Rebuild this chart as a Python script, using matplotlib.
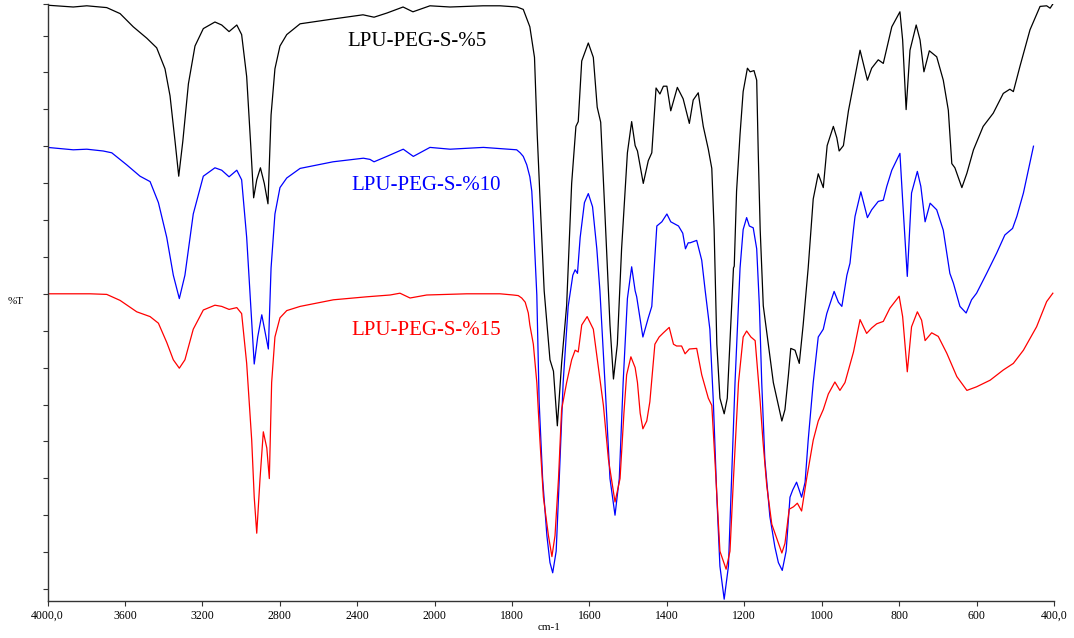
import numpy as np
import matplotlib
matplotlib.use("Agg")
import matplotlib.pyplot as plt

# ---------------- data (wavenumber cm-1, %T arbitrary offset units) ----------------
wn_black = [4000, 3867, 3797, 3694, 3625, 3557, 3487, 3436, 3393, 3367, 3341, 3322, 3301, 3272, 3238,
            3195, 3135, 3100, 3062, 3022, 2997, 2971, 2950, 2935, 2919, 2900, 2880, 2861, 2845, 2825,
            2799, 2764, 2695, 2525, 2370, 2313, 2246, 2163, 2112, 2024, 1960, 1875, 1831, 1787, 1771,
            1754, 1742, 1735, 1726, 1717, 1702, 1693, 1683, 1672, 1659, 1646, 1635, 1629, 1620, 1603,
            1590, 1580, 1571, 1560, 1547, 1538, 1528, 1517, 1502, 1491, 1482, 1476, 1461, 1448, 1439,
            1428, 1418, 1409, 1400, 1390, 1373, 1358, 1342, 1332, 1319, 1306, 1293, 1284, 1278, 1271,
            1263, 1252, 1244, 1235, 1228, 1226, 1220, 1211, 1203, 1192, 1185, 1175, 1168, 1164, 1159,
            1151, 1138, 1125, 1112, 1103, 1095, 1086, 1080, 1069, 1058, 1048, 1035, 1022, 1009, 996,
            986, 970, 961, 955, 944, 931, 918, 901, 882, 871, 854, 841, 832, 819, 798,
            791, 782, 772, 756, 746, 736, 722, 703, 686, 673, 664, 656, 638, 625, 608,
            583, 557, 531, 514, 505, 488, 462, 436, 419, 410, 403]
t_black = [99.3, 99.0, 99.2, 98.9, 97.9, 95.7, 93.8, 92.2, 88.7, 84.2, 76.6, 70.8, 76.6, 86.2, 92.5,
           95.4, 96.5, 96.0, 94.9, 96.0, 94.4, 87.4, 75.9, 67.2, 70.2, 72.2, 69.6, 66.2, 81.0, 88.7,
           92.5, 94.4, 96.2, 97.0, 97.7, 97.3, 98.0, 99.0, 98.2, 99.2, 99.0, 99.2, 99.2, 99.0, 98.6,
           95.7, 90.6, 77.8, 64.5, 51.7, 40.2, 38.3, 29.2, 39.6, 49.2, 69.6, 79.1, 79.9, 90.0, 93.0,
           90.6, 82.3, 79.8, 64.5, 46.0, 37.0, 42.8, 58.7, 74.7, 79.9, 75.9, 75.0, 69.6, 73.4, 74.7,
           85.5, 84.5, 85.8, 85.8, 81.7, 85.6, 83.7, 79.6, 83.5, 84.7, 79.1, 75.3, 72.1, 61.9, 42.8,
           33.8, 31.2, 33.8, 46.0, 55.5, 55.8, 68.3, 77.8, 84.9, 88.8, 88.2, 88.4, 86.8, 74.7, 61.9,
           49.2, 42.8, 36.4, 32.6, 30.0, 31.9, 37.7, 42.1, 41.8, 39.6, 46.0, 55.5, 67.0, 71.2, 68.9,
           75.9, 79.1, 77.2, 75.0, 75.9, 81.7, 86.1, 91.8, 86.8, 88.8, 90.2, 89.6, 92.1, 95.7, 98.2,
           93.5, 81.9, 91.8, 96.0, 93.5, 88.2, 91.7, 90.7, 86.8, 81.8, 72.9, 72.2, 68.9, 71.3, 75.2,
           79.1, 81.3, 84.6, 85.3, 84.9, 89.1, 95.2, 99.1, 99.2, 98.8, 99.5]

wn_blue = [4000, 3867, 3797, 3712, 3668, 3591, 3522, 3470, 3427, 3384, 3350, 3319, 3290, 3247, 3195,
           3135, 3100, 3062, 3022, 2997, 2971, 2950, 2932, 2914, 2893, 2875, 2859, 2845, 2825, 2799,
           2764, 2695, 2525, 2368, 2334, 2313, 2247, 2162, 2110, 2024, 1960, 1874, 1831, 1788, 1779,
           1771, 1762, 1754, 1749, 1745, 1736, 1730, 1721, 1710, 1702, 1695, 1686, 1678, 1668, 1655,
           1643, 1637, 1631, 1624, 1613, 1603, 1592, 1581, 1573, 1560, 1547, 1534, 1523, 1513, 1502,
           1491, 1482, 1478, 1462, 1448, 1439, 1426, 1413, 1400, 1390, 1370, 1359, 1352, 1345, 1340,
           1323, 1310, 1301, 1289, 1280, 1271, 1263, 1252, 1241, 1233, 1224, 1211, 1203, 1194, 1187,
           1177, 1168, 1161, 1155, 1147, 1134, 1121, 1112, 1102, 1092, 1082, 1075, 1065, 1052, 1043,
           1035, 1022, 1009, 996, 987, 968, 957, 948, 935, 927, 918, 914, 899, 882, 871,
           854, 841, 832, 819, 798, 791, 779, 768, 753, 744, 733, 720, 703, 686, 669,
           660, 643, 627, 613, 600, 574, 548, 527, 507, 496, 479, 453]
t_blue = [75.6, 75.2, 75.3, 75.0, 74.7, 72.7, 70.8, 69.9, 66.4, 60.6, 54.3, 50.4, 54.3, 64.5, 70.8,
          72.2, 71.8, 70.7, 71.8, 70.2, 60.6, 49.1, 39.5, 44.0, 47.7, 44.7, 42.0, 55.5, 64.5, 68.9,
          70.5, 72.1, 73.2, 73.8, 73.6, 73.2, 74.1, 75.3, 74.1, 75.6, 75.3, 75.6, 75.4, 75.2, 74.7,
          74.1, 72.7, 70.7, 68.3, 63.5, 51.0, 33.2, 20.4, 10.9, 6.4, 4.7, 8.3, 20.4, 36.4, 49.1,
          54.3, 55.2, 54.6, 60.6, 66.4, 67.9, 65.7, 58.7, 51.7, 36.4, 20.4, 14.3, 20.4, 36.4, 50.4,
          55.7, 51.7, 50.7, 44.0, 47.2, 49.1, 62.5, 63.2, 64.5, 63.2, 62.5, 61.3, 58.7, 59.7, 59.7,
          60.1, 56.8, 51.7, 45.3, 33.2, 17.3, 5.8, 0.3, 5.8, 20.4, 36.4, 55.5, 61.9, 63.9, 62.5,
          62.2, 58.7, 49.1, 36.4, 23.6, 14.1, 9.0, 6.4, 5.1, 8.3, 17.3, 18.5, 19.8, 17.3, 19.8,
          26.8, 36.4, 44.0, 45.3, 47.9, 51.6, 49.8, 49.1, 54.3, 56.3, 61.9, 64.1, 68.2, 63.9, 65.2,
          66.6, 66.8, 69.1, 71.8, 74.6, 66.8, 54.1, 68.0, 71.6, 69.1, 63.2, 66.3, 65.2, 61.8, 54.6,
          53.0, 49.1, 48.0, 50.2, 51.3, 54.6, 58.0, 61.0, 62.1, 64.1, 68.0, 75.8]

wn_red = [4000, 3780, 3694, 3625, 3539, 3470, 3427, 3384, 3350, 3319, 3290, 3247, 3195, 3135, 3100,
          3062, 3022, 2997, 2971, 2945, 2932, 2919, 2902, 2885, 2867, 2854, 2842, 2825, 2799, 2764,
          2695, 2523, 2351, 2230, 2179, 2127, 2041, 1917, 1831, 1797, 1784, 1775, 1766, 1758, 1754,
          1745, 1736, 1728, 1719, 1706, 1697, 1689, 1680, 1672, 1659, 1646, 1637, 1629, 1620, 1606,
          1590, 1577, 1564, 1551, 1534, 1521, 1511, 1504, 1493, 1482, 1476, 1469, 1462, 1452, 1444,
          1431, 1420, 1409, 1394, 1383, 1375, 1362, 1353, 1342, 1323, 1310, 1293, 1284, 1276, 1263,
          1247, 1237, 1228, 1215, 1203, 1194, 1183, 1172, 1159, 1152, 1142, 1129, 1115, 1103, 1095,
          1084, 1073, 1063, 1052, 1039, 1022, 1009, 996, 983, 966, 953, 940, 918, 901, 884,
          871, 858, 841, 824, 800, 791, 779, 768, 753, 742, 733, 716, 699, 677, 651,
          625, 600, 565, 531, 505, 479, 445, 419, 403]
t_red = [51.2, 51.2, 51.1, 50.1, 48.2, 47.4, 46.3, 43.1, 40.2, 38.8, 40.2, 45.3, 48.5, 49.3, 49.1,
         48.6, 48.9, 47.9, 39.6, 26.8, 17.3, 11.3, 20.4, 28.2, 25.5, 20.4, 36.4, 44.0, 47.2, 48.4,
         49.1, 50.2, 50.7, 51.0, 51.3, 50.5, 51.0, 51.2, 51.2, 51.0, 50.9, 50.5, 49.8, 48.0, 46.0,
         42.8, 36.4, 26.8, 17.3, 10.9, 7.4, 10.9, 20.4, 31.9, 36.4, 40.2, 41.8, 41.5, 46.0, 47.4,
         45.3, 38.9, 32.6, 23.6, 16.5, 20.4, 31.3, 37.7, 40.7, 38.9, 36.4, 31.3, 28.7, 30.0, 33.2,
         42.8, 44.0, 44.7, 45.6, 42.8, 42.5, 42.5, 41.2, 42.0, 42.1, 37.7, 33.8, 32.6, 23.6, 8.3,
         5.3, 8.3, 20.4, 36.4, 44.0, 45.0, 44.0, 43.4, 33.2, 26.8, 19.2, 12.8, 10.2, 8.0, 9.6,
         15.3, 15.7, 16.3, 15.0, 20.4, 26.8, 30.0, 31.9, 34.5, 36.5, 35.1, 36.4, 41.5, 46.9, 44.6,
         45.5, 46.2, 46.6, 48.8, 50.8, 47.4, 38.2, 45.7, 48.2, 46.8, 43.4, 44.7, 44.1, 41.3, 37.4,
         35.1, 35.7, 36.8, 38.5, 39.6, 41.8, 45.7, 49.9, 51.3]

series_names = ["LPU-PEG-S-%5", "LPU-PEG-S-%10", "LPU-PEG-S-%15"]
series_colors = ["#000000", "#0000ff", "#ff0000"]

x_ticks = [4000, 3600, 3200, 2800, 2400, 2000, 1800, 1600, 1400, 1200, 1000, 800, 600, 400]
x_tick_labels = ["4000,0", "3600", "3200", "2800", "2400", "2000", "1800", "1600", "1400",
                 "1200", "1000", "800", "600", "400,0"]

# ---------------- figure ----------------
SERIF = ["Liberation Serif", "DejaVu Serif"]
plt.rcParams["font.family"] = SERIF

fig = plt.figure(figsize=(10.74, 6.38), dpi=100)
ax = fig.add_axes([0.04423, 0.05799, 0.93715, 0.93574])


def fwd(x):
    x = np.asarray(x, dtype=float)
    return np.where(x > 2000, 2000 + (x - 2000) / 2.0, x)


def inv(u):
    u = np.asarray(u, dtype=float)
    return np.where(u > 2000, 2000 + (u - 2000) * 2.0, u)


ax.set_xscale("function", functions=(fwd, inv))

for wn, t, c in zip([wn_black, wn_blue, wn_red], [t_black, t_blue, t_red], series_colors):
    ax.plot(wn, t, color=c, lw=0.9, solid_joinstyle="round")

ax.set_xlim(4000, 400)
ax.set_ylim(0, 99.5)

ax.set_xticks(x_ticks)
ax.set_xticklabels(x_tick_labels)
ax.xaxis.set_minor_locator(matplotlib.ticker.NullLocator())
yt = list(2.0 + 6.15 * np.arange(16)) + [99.5]
ax.set_yticks(yt)
ax.set_yticklabels([])
ax.tick_params(axis="both", direction="out", length=3.5, width=0.8, color="#333333")
ax.tick_params(axis="x", labelsize=8.5, pad=3)

for s in ["top", "right"]:
    ax.spines[s].set_visible(False)
for s in ["left", "bottom"]:
    ax.spines[s].set_linewidth(1.0)
    ax.spines[s].set_color("#333333")

# labels
label_pos = [(0.3668, 0.9296), (0.3759, 0.6884), (0.3767, 0.4456)]
for name, c, (lx, ly) in zip(series_names, series_colors, label_pos):
    ax.text(lx, ly, name, color=c, fontsize=15, ha="center", va="baseline",
            transform=ax.transAxes)

fig.text(16 / 1074, 1 - 302 / 638, "%T", fontsize=8, ha="center", va="center")
fig.text(549 / 1074, 1 - 627 / 638, "cm-1", fontsize=8, ha="center", va="center")

fig.savefig("out.png", dpi=100)
